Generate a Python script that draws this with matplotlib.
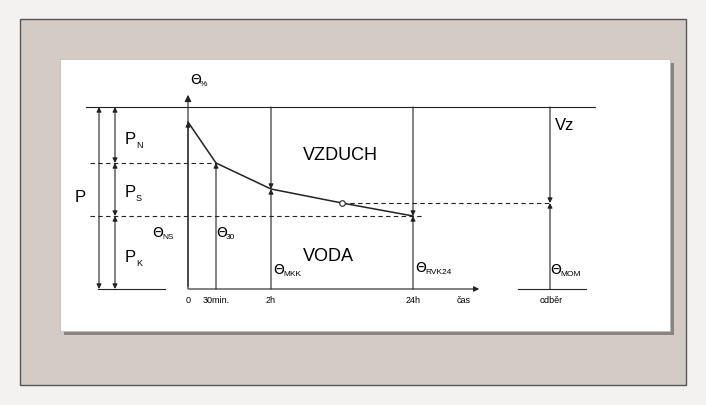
import matplotlib.pyplot as plt
from matplotlib.patches import Rectangle

# diagram in pixel coordinates of the reference
curve_x = [188, 216, 271, 342, 413]
curve_y = [123, 164, 190, 204, 217]
tick_x = [188, 216, 271, 413, 464, 551]
tick_labels = ["0", "30min.", "2h", "24h", "čas", "odběr"]
y_top, y_ps, y_mid, y_pk, y_bot = 108, 164, 204, 217, 290

fig = plt.figure(figsize=(7.06, 4.06), dpi=100)
fig.patch.set_facecolor("#f4f2f1")
ax = fig.add_axes([0, 0, 1, 1])
ax.set_xlim(0, 706)
ax.set_ylim(406, 0)
ax.axis("off")

ax.add_patch(Rectangle((20, 20), 666, 366, fc="#d4cbc5", ec="#555555", lw=1))
ax.add_patch(Rectangle((64, 64), 610, 272, fc="#8a8380", ec="none"))
ax.add_patch(Rectangle((60, 60), 610, 272, fc="white", ec="#bbbbbb", lw=0.5))

k = "#222222"
lw = 0.8
ax.plot([86, 595], [y_top, y_top], color=k, lw=lw)
ax.plot([98, 165], [y_bot, y_bot], color=k, lw=lw)
ax.plot([518, 586], [y_bot, y_bot], color=k, lw=lw)
ax.annotate("", xy=(482, y_bot), xytext=(186, y_bot),
            arrowprops=dict(arrowstyle="-|>", color=k, lw=lw, mutation_scale=8))
ax.annotate("", xy=(188, 93), xytext=(188, y_bot),
            arrowprops=dict(arrowstyle="-|>", color=k, lw=lw, mutation_scale=10))
ax.plot([90, 216], [y_ps, y_ps], color=k, lw=lw, ls="--", dashes=(4, 3))
ax.plot([90, 424], [y_pk, y_pk], color=k, lw=lw, ls="--", dashes=(4, 3))
ax.plot([342, 550], [y_mid, y_mid], color=k, lw=lw, ls="--", dashes=(4, 3))

ax.plot(curve_x, curve_y, color=k, lw=1.1)
ax.plot(curve_x[3], curve_y[3], "o", ms=4, mfc="white", mec=k, mew=0.8)

def arr(x, y0, y1, both=False):
    st = "<|-|>" if both else "-|>"
    ax.annotate("", xy=(x, y1), xytext=(x, y0),
                arrowprops=dict(arrowstyle=st, color=k, lw=lw, mutation_scale=7,
                                shrinkA=0, shrinkB=0))

arr(188, y_bot, curve_y[0])
arr(216, y_bot, y_ps)
for x, y in [(271, curve_y[2]), (413, curve_y[4]), (550, y_mid)]:
    arr(x, y_top, y)
    arr(x, y_bot, y)
arr(99, y_top, y_bot, both=True)
arr(115, y_top, y_ps, both=True)
arr(115, y_ps, y_pk, both=True)
arr(115, y_pk, y_bot, both=True)

fam = "Liberation Sans"
ax.text(80, 198, "P", fontsize=12, family=fam, va="center", ha="center")
for y, s in [(140, "N"), (193, "S"), (258, "K")]:
    ax.text(125, y, "P", fontsize=12, family=fam, va="center")
    ax.text(136, y + 6, s, fontsize=6.5, family=fam, va="center")
ax.text(340, 156, "VZDUCH", fontsize=13, family=fam, ha="center", va="center")
ax.text(328, 257, "VODA", fontsize=13, family=fam, ha="center", va="center")
ax.text(565, 125, "Vz", fontsize=12, family=fam, ha="center", va="center")

for x, y, s in [(190, 80, "%"), (152, 233, "NS"), (216, 233, "30"), (273, 270, "MKK"),
                (415, 268, "RVK24"), (550, 270, "MOM")]:
    ax.text(x, y, "Θ", fontsize=10, family="DejaVu Sans", va="center")
    ax.text(x + 10, y + 5, s, fontsize=6, family=fam, va="center")

for x, s in zip(tick_x, tick_labels):
    ax.text(x, 301, s, fontsize=6.5, family=fam, ha="center", va="center")

fig.savefig("out.png", dpi=100, facecolor=fig.get_facecolor())
